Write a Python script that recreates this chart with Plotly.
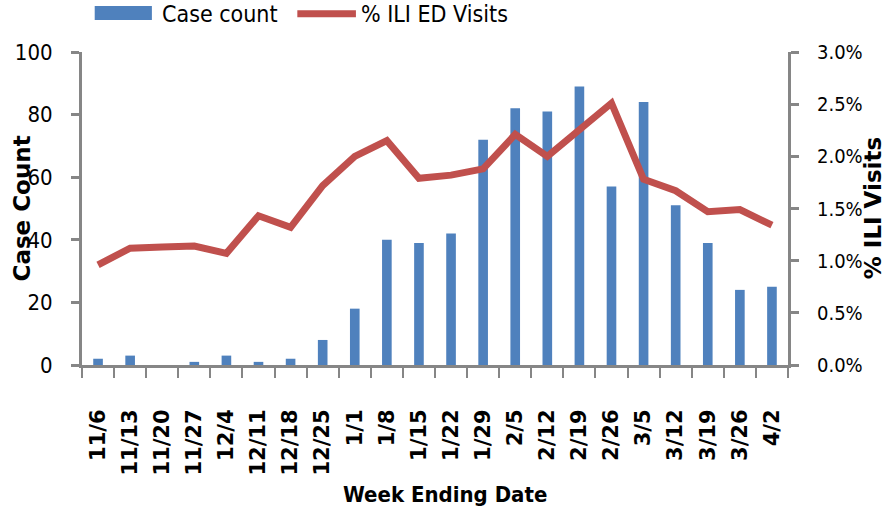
import plotly.graph_objects as go

weeks = ["11/6", "11/13", "11/20", "11/27", "12/4", "12/11", "12/18", "12/25",
         "1/1", "1/8", "1/15", "1/22", "1/29", "2/5", "2/12", "2/19", "2/26",
         "3/5", "3/12", "3/19", "3/26", "4/2"]
case_count = [2, 3, 0, 1, 3, 1, 2, 8, 18, 40, 39, 42, 72, 82, 81, 89, 57,
              84, 51, 39, 24, 25]
ili_pct = [0.0096, 0.0112, 0.0113, 0.0114, 0.0107, 0.0143, 0.0132, 0.0172,
           0.0200, 0.0215, 0.0179, 0.0182, 0.0188, 0.0221, 0.0200, 0.0225,
           0.0251, 0.0178, 0.0167, 0.0147, 0.0149, 0.0134]

BLUE = "#4F81BD"
RED = "#C0504D"
AXIS = "#868686"
NARROW = "DejaVu Sans Condensed, Roboto Condensed, Roboto, sans-serif"
VERD = "DejaVu Sans, Verdana, sans-serif"

fig = go.Figure()
fig.add_trace(go.Bar(x=weeks, y=case_count, name="Case count",
                     marker=dict(color=BLUE, line=dict(width=0)), yaxis="y"))
fig.add_trace(go.Scatter(x=weeks, y=ili_pct, name="% ILI ED Visits", mode="lines",
                         line=dict(color=RED, width=7), yaxis="y2"))

fig.update_layout(
    width=895, height=512,
    margin=dict(l=82, r=107, t=52, b=147, autoexpand=False),
    paper_bgcolor="white", plot_bgcolor="white",
    showlegend=False,
    bargap=0.7,
    xaxis=dict(
        type="category", showline=True, linecolor=AXIS, linewidth=3,
        ticks="outside", tickson="boundaries", ticklen=10, tickwidth=2, tickcolor=AXIS,
        tickangle=-90, ticklabelstandoff=33,
        tickfont=dict(family=VERD, size=21, color="black", weight="bold"),
        showgrid=False, automargin=False,
    ),
    yaxis=dict(
        range=[0, 100], dtick=20, showline=True, linecolor=AXIS, linewidth=3,
        ticks="outside", ticklen=8, tickwidth=3, tickcolor=AXIS, showgrid=False,
        zeroline=False, ticklabelstandoff=14, automargin=False,
        tickfont=dict(family=NARROW, size=22, color="black"),
    ),
    yaxis2=dict(
        range=[0, 0.03], dtick=0.005, tickformat=".1%", overlaying="y", side="right",
        showline=True, linecolor=AXIS, linewidth=3,
        ticks="outside", ticklen=8, tickwidth=3, tickcolor=AXIS, showgrid=False,
        zeroline=False, ticklabelstandoff=14, automargin=False,
        tickfont=dict(family=NARROW, size=20, color="black"),
    ),
)

# axis titles
fig.add_annotation(xref="paper", yref="paper", x=-0.085, y=0.5, textangle=-90,
                   xanchor="center", yanchor="middle", showarrow=False,
                   text="Case Count",
                   font=dict(family=VERD, size=23, color="black", weight="bold"))
fig.add_annotation(xref="paper", yref="paper", x=1.12, y=0.5, textangle=-90,
                   xanchor="center", yanchor="middle", showarrow=False,
                   text="% ILI Visits",
                   font=dict(family=VERD, size=23, color="black", weight="bold"))
fig.add_annotation(xref="paper", yref="paper", x=0.514, y=-0.415,
                   xanchor="center", yanchor="middle", showarrow=False,
                   text="Week Ending Date",
                   font=dict(family=NARROW, size=22, color="black", weight="bold"))

# custom legend
fig.add_shape(type="rect", xref="paper", yref="paper",
              x0=0.018, x1=0.099, y0=1.102, y1=1.147,
              fillcolor=BLUE, line=dict(width=0))
fig.add_annotation(xref="paper", yref="paper", x=0.110, y=1.122, xanchor="left",
                   yanchor="middle", text="Case count", showarrow=False,
                   font=dict(family=NARROW, size=23, color="black"))
fig.add_shape(type="line", xref="paper", yref="paper",
              x0=0.305, x1=0.388, y0=1.122, y1=1.122,
              line=dict(color=RED, width=7))
fig.add_annotation(xref="paper", yref="paper", x=0.393, y=1.122, xanchor="left",
                   yanchor="middle", text="% ILI ED Visits", showarrow=False,
                   font=dict(family=NARROW, size=23, color="black"))

fig.write_html("out.html", config={"displayModeBar": False},
               post_script="document.body.style.margin='0px';")
